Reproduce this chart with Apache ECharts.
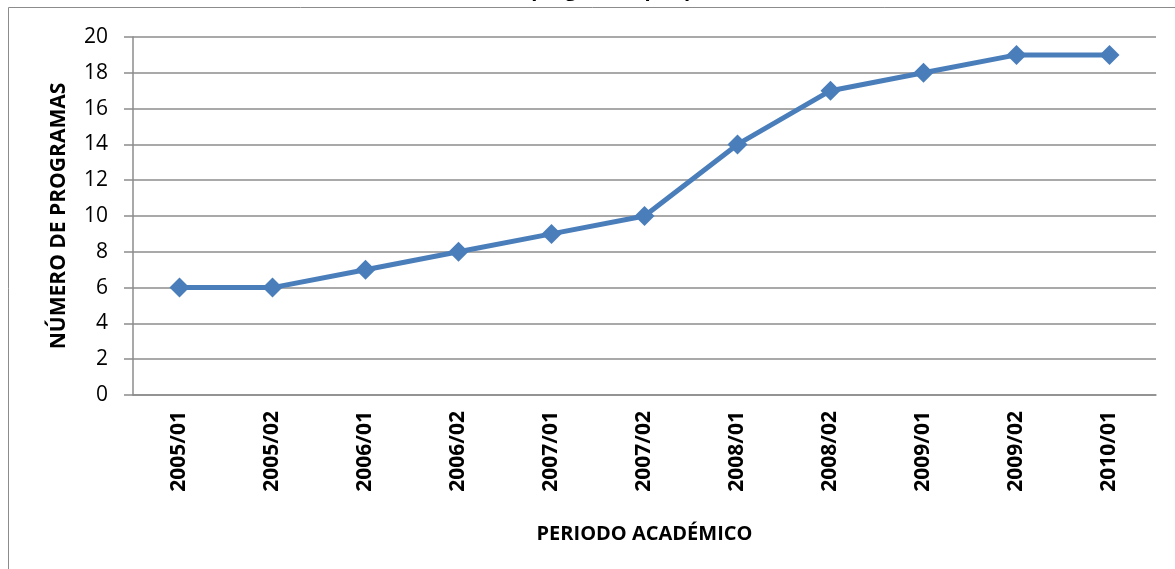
<!DOCTYPE html>
<html>
<head>
<meta charset="utf-8">
<script src="https://cdn.jsdelivr.net/npm/echarts@6/dist/echarts.min.js"></script>
<style>
  html, body { margin: 0; padding: 0; background: #fff; }
  #chart { width: 1175px; height: 569px; }
</style>
</head>
<body>
<div id="chart"></div>
<script>
// periodos academicos y numero de programas
var periodos = ['2005/01', '2005/02', '2006/01', '2006/02', '2007/01', '2007/02',
                '2008/01', '2008/02', '2009/01', '2009/02', '2010/01'];
var programas = [6, 6, 7, 8, 9, 10, 14, 17, 18, 19, 19];
var yMin = 0;
var yMax = 20;
var yStep = 2;

var gris = '#8c8c8c';
var azul = '#4A7EBB';
var fuente = '"Open Sans", "DejaVu Sans", sans-serif';

var myChart = echarts.init(document.getElementById('chart'));

var option = {
	backgroundColor: '#fff',
	animation: false,
	title: {
		text: 'Número de programas por periodo',
		left: 'center',
		top: -25,
		textStyle: {
			fontFamily: fuente,
			fontSize: 20,
			fontWeight: 'bold',
			color: '#000'
		}
	},
	graphic: [{
		type: 'rect',
		shape: { x: 8.5, y: 7.5, width: 1180, height: 580 },
		style: { fill: 'none', stroke: gris, lineWidth: 1 },
		silent: true,
		z: -1
	}],
	grid: {
		left: 133,
		right: 19,
		top: 37,
		bottom: 174
	},
	xAxis: {
		type: 'category',
		data: periodos,
		boundaryGap: true,
		name: 'PERIODO ACADÉMICO',
		nameLocation: 'middle',
		nameGap: 129,
		nameTextStyle: {
			fontFamily: fuente,
			fontSize: 20,
			fontWeight: 'bold',
			color: '#000'
		},
		axisLine: { show: true, lineStyle: { color: gris, width: 1.5 } },
		axisTick: { show: false },
		axisLabel: {
			rotate: 90,
			margin: 16,
			fontFamily: fuente,
			fontSize: 21,
			fontWeight: 'bold',
			color: '#000'
		},
		splitLine: { show: false }
	},
	yAxis: {
		type: 'value',
		min: yMin,
		max: yMax,
		interval: yStep,
		name: 'NÚMERO DE PROGRAMAS',
		nameLocation: 'middle',
		nameGap: 63,
		nameTextStyle: {
			fontFamily: fuente,
			fontSize: 21,
			fontWeight: 'bold',
			color: '#000'
		},
		axisLine: { show: true, lineStyle: { color: gris, width: 1.5 } },
		axisTick: { show: true, length: 9, lineStyle: { color: gris, width: 1.5 } },
		axisLabel: {
			margin: 25,
			fontFamily: fuente,
			fontSize: 21,
			color: '#000'
		},
		splitLine: { show: true, lineStyle: { color: gris, width: 1.5 } }
	},
	series: [{
		name: 'Programas',
		type: 'line',
		data: programas,
		symbol: 'diamond',
		symbolSize: 20,
		lineStyle: { color: azul, width: 5 },
		itemStyle: { color: azul },
		z: 3
	}]
};

myChart.setOption(option);
</script>
</body>
</html>
